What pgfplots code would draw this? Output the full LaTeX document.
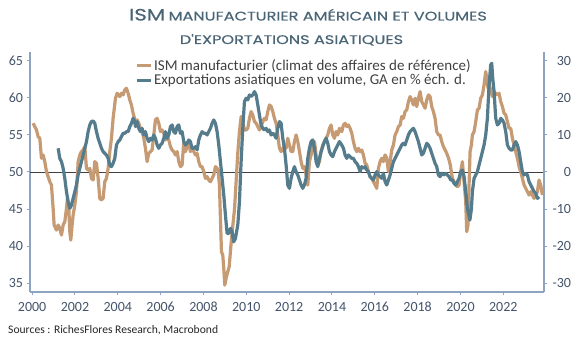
\documentclass[border=0pt]{standalone}
\usepackage{pgfplots}
\usepackage{pgfplotstable}
\pgfplotsset{compat=1.18}
\usepackage{fontspec}
\setmainfont{Carlito}
\newfontfamily\titlefont{Poppins}[FakeBold=0.45]
\definecolor{ismc}{HTML}{C69A72}
\definecolor{expc}{HTML}{547C8C}
\definecolor{axc}{HTML}{8EA3BF}
\definecolor{labc}{HTML}{44546A}
\definecolor{titc}{HTML}{4A6575}
\definecolor{txtc}{HTML}{404040}

\pgfplotstableread{
x y
2000.046 56.58
2000.202 55.68
2000.280 54.77
2000.358 54.55
2000.435 51.85
2000.513 52.30
2000.591 51.40
2000.669 50.05
2000.747 49.37
2000.825 48.69
2000.902 48.24
2000.980 45.09
2001.027 42.84
2001.136 42.16
2001.214 42.84
2001.291 42.39
2001.369 41.49
2001.447 42.84
2001.525 43.29
2001.603 45.09
2001.649 46.44
2001.712 45.09
2001.758 41.94
2001.805 40.81
2001.867 42.84
2001.914 44.19
2001.992 45.54
2002.069 47.34
2002.147 51.40
2002.225 52.30
2002.303 52.75
2002.381 52.97
2002.459 53.42
2002.536 50.50
2002.614 50.27
2002.692 50.50
2002.770 49.14
2002.848 48.92
2002.925 51.40
2003.003 51.17
2003.081 49.14
2003.159 46.44
2003.237 46.22
2003.314 46.44
2003.392 48.69
2003.470 49.14
2003.548 50.50
2003.626 52.75
2003.703 54.55
2003.781 57.25
2003.890 59.95
2003.968 60.63
2004.093 60.18
2004.170 60.63
2004.248 60.41
2004.326 61.08
2004.404 61.31
2004.482 60.63
2004.559 59.73
2004.637 59.05
2004.715 57.93
2004.824 56.80
2004.901 57.03
2004.979 56.58
2005.057 55.90
2005.135 55.45
2005.213 54.55
2005.290 53.20
2005.368 51.40
2005.446 52.52
2005.524 52.75
2005.602 52.97
2005.680 55.00
2005.757 57.03
2005.835 57.25
2005.913 56.58
2005.991 55.45
2006.069 55.68
2006.146 55.23
2006.224 54.32
2006.302 54.77
2006.380 54.32
2006.458 53.42
2006.535 52.97
2006.613 52.75
2006.691 52.30
2006.769 52.75
2006.847 51.40
2006.924 50.72
2007.002 50.95
2007.080 54.10
2007.158 52.75
2007.236 53.42
2007.313 53.87
2007.391 52.75
2007.469 53.20
2007.547 52.75
2007.625 52.30
2007.702 52.52
2007.780 51.40
2007.858 50.72
2007.936 50.72
2008.014 50.05
2008.091 49.14
2008.169 49.37
2008.247 48.92
2008.325 48.69
2008.403 49.14
2008.480 49.59
2008.558 50.72
2008.636 50.50
2008.683 50.27
2008.745 48.24
2008.792 43.74
2008.839 39.23
2008.901 38.78
2008.948 36.98
2008.994 34.73
2009.056 35.63
2009.130 36.50
2009.200 37.20
2009.280 40.00
2009.360 42.50
2009.450 45.00
2009.520 48.50
2009.600 52.50
2009.680 55.50
2009.760 57.50
2009.835 56.80
2009.913 55.68
2009.991 55.68
2010.069 55.90
2010.146 57.25
2010.224 58.15
2010.302 57.70
2010.380 56.80
2010.458 56.58
2010.536 56.13
2010.613 55.68
2010.691 56.13
2010.769 56.80
2010.847 57.25
2010.925 57.03
2011.002 58.15
2011.080 59.05
2011.158 58.83
2011.236 58.15
2011.314 57.25
2011.391 56.58
2011.469 55.00
2011.547 53.20
2011.625 52.75
2011.703 53.20
2011.780 53.65
2011.858 53.20
2011.936 54.55
2012.014 53.65
2012.092 52.75
2012.170 52.75
2012.247 54.10
2012.325 55.00
2012.403 54.10
2012.481 52.75
2012.559 51.40
2012.636 50.50
2012.714 50.72
2012.792 49.59
2012.870 48.24
2012.948 51.40
2013.025 52.30
2013.103 53.65
2013.181 54.10
2013.259 52.30
2013.337 50.95
2013.415 51.40
2013.492 52.75
2013.570 53.65
2013.648 54.10
2013.726 54.55
2013.804 55.00
2013.881 55.90
2013.959 56.35
2014.037 55.00
2014.115 54.55
2014.193 55.45
2014.270 55.00
2014.348 55.90
2014.457 55.45
2014.535 56.35
2014.612 56.58
2014.690 56.13
2014.768 56.35
2014.846 55.90
2014.924 55.23
2015.001 54.10
2015.079 53.20
2015.157 52.75
2015.235 53.20
2015.313 52.75
2015.390 52.97
2015.468 52.30
2015.546 51.17
2015.624 50.95
2015.702 50.05
2015.779 49.37
2015.857 49.14
2015.935 48.69
2016.013 48.24
2016.091 47.79
2016.168 50.50
2016.246 51.40
2016.324 51.85
2016.402 51.40
2016.480 52.30
2016.557 51.85
2016.635 50.05
2016.713 51.40
2016.791 52.97
2016.869 53.65
2016.947 55.00
2017.024 55.45
2017.102 56.13
2017.180 56.35
2017.258 57.48
2017.336 57.25
2017.413 58.15
2017.491 58.38
2017.569 59.50
2017.647 60.18
2017.725 59.73
2017.802 59.05
2017.880 59.95
2017.958 58.83
2018.036 59.95
2018.114 60.86
2018.192 59.50
2018.269 59.05
2018.347 58.60
2018.425 59.73
2018.503 60.41
2018.581 60.18
2018.658 58.83
2018.736 58.15
2018.814 57.25
2018.892 55.45
2018.970 55.00
2019.047 55.00
2019.125 54.10
2019.203 53.42
2019.280 53.00
2019.360 52.50
2019.440 51.90
2019.520 51.00
2019.623 49.14
2019.701 48.69
2019.779 48.24
2019.856 48.02
2019.934 48.24
2020.012 50.05
2020.090 51.40
2020.168 48.69
2020.245 45.99
2020.292 41.94
2020.354 42.84
2020.401 48.24
2020.448 52.75
2020.510 53.65
2020.557 55.00
2020.635 55.45
2020.712 56.80
2020.790 58.38
2020.868 58.60
2020.946 59.95
2021.024 60.41
2021.101 61.76
2021.179 63.56
2021.226 62.66
2021.288 61.31
2021.335 61.98
2021.413 60.86
2021.491 60.18
2021.568 60.86
2021.646 60.63
2021.724 60.41
2021.802 60.63
2021.880 59.50
2021.957 58.83
2022.035 57.93
2022.113 57.70
2022.191 56.80
2022.269 55.90
2022.346 55.90
2022.424 54.55
2022.502 53.65
2022.580 52.75
2022.658 51.85
2022.736 50.72
2022.813 50.05
2022.891 49.14
2022.969 48.24
2023.047 47.79
2023.125 47.34
2023.203 46.89
2023.280 47.34
2023.358 46.89
2023.436 46.44
2023.514 46.89
2023.592 47.34
2023.669 48.92
2023.747 48.24
2023.825 46.89
}\ismtable

\pgfplotstableread{
x y
2001.214 6.40
2001.291 3.69
2001.369 2.79
2001.447 0.99
2001.525 -1.71
2001.603 -5.32
2001.680 -8.02
2001.758 -9.82
2001.836 -8.92
2001.914 -7.12
2001.992 -5.32
2002.069 -3.51
2002.147 -0.81
2002.225 0.99
2002.303 2.79
2002.381 4.59
2002.459 6.40
2002.536 8.20
2002.614 10.90
2002.692 12.70
2002.770 13.60
2002.848 13.78
2002.925 13.15
2003.003 10.90
2003.081 9.10
2003.159 7.75
2003.237 6.40
2003.314 5.50
2003.392 5.05
2003.470 4.59
2003.548 3.69
2003.626 1.89
2003.703 1.44
2003.781 2.34
2003.859 3.69
2003.937 7.30
2004.015 8.20
2004.093 8.65
2004.170 9.55
2004.248 10.45
2004.326 10.45
2004.404 10.90
2004.482 10.90
2004.559 12.25
2004.637 13.15
2004.715 14.50
2004.793 13.60
2004.824 12.25
2004.901 13.60
2004.979 11.80
2005.057 10.90
2005.135 11.80
2005.213 10.00
2005.290 10.90
2005.368 9.10
2005.446 8.20
2005.524 9.10
2005.602 8.65
2005.680 10.00
2005.757 9.10
2005.835 7.30
2005.913 6.40
2005.991 7.30
2006.069 7.75
2006.146 9.10
2006.224 10.90
2006.302 9.10
2006.380 10.00
2006.458 12.25
2006.535 12.70
2006.613 10.90
2006.691 10.45
2006.769 12.25
2006.847 12.70
2006.924 10.45
2007.002 10.90
2007.080 8.20
2007.158 7.30
2007.236 7.75
2007.313 8.65
2007.391 8.20
2007.469 6.40
2007.547 6.40
2007.625 6.85
2007.702 5.95
2007.780 8.65
2007.858 10.00
2007.936 10.90
2008.014 10.45
2008.091 10.45
2008.169 10.00
2008.247 10.90
2008.325 11.80
2008.403 13.15
2008.480 14.05
2008.558 13.15
2008.636 10.90
2008.714 7.30
2008.792 2.79
2008.870 -1.71
2008.948 -6.22
2009.025 -11.62
2009.103 -16.58
2009.181 -16.58
2009.259 -15.23
2009.337 -16.13
2009.414 -18.83
2009.492 -17.93
2009.602 -14.32
2009.680 -8.02
2009.757 2.79
2009.835 11.80
2009.913 19.01
2009.991 19.91
2010.069 19.46
2010.146 20.81
2010.224 20.36
2010.302 20.81
2010.380 21.71
2010.458 20.81
2010.536 18.11
2010.613 15.41
2010.691 12.70
2010.769 11.80
2010.847 11.35
2010.925 11.80
2011.002 10.90
2011.080 11.35
2011.158 10.00
2011.236 10.45
2011.314 10.00
2011.391 9.10
2011.469 11.80
2011.547 13.60
2011.625 13.15
2011.703 9.10
2011.780 6.40
2011.858 1.89
2011.936 -3.51
2012.014 -4.41
2012.092 -1.71
2012.170 0.09
2012.247 1.44
2012.325 0.09
2012.403 -0.81
2012.481 -2.16
2012.559 -3.51
2012.636 -4.41
2012.714 -3.51
2012.792 -1.71
2012.870 3.69
2012.948 6.40
2013.025 8.20
2013.103 8.65
2013.181 6.40
2013.259 2.79
2013.337 1.44
2013.415 3.69
2013.492 5.50
2013.570 6.85
2013.648 8.20
2013.726 9.10
2013.804 7.75
2013.881 5.50
2013.959 4.59
2014.037 4.14
2014.115 5.50
2014.193 6.40
2014.270 7.30
2014.348 8.20
2014.457 7.30
2014.535 6.40
2014.612 4.59
2014.690 3.69
2014.768 4.59
2014.846 4.14
2014.924 3.69
2015.001 3.69
2015.079 2.79
2015.157 2.34
2015.235 1.44
2015.313 0.09
2015.390 1.44
2015.468 0.99
2015.546 1.44
2015.624 0.54
2015.702 0.09
2015.779 -1.26
2015.857 -1.71
2015.935 -2.16
2016.013 -0.81
2016.091 0.09
2016.168 -0.81
2016.246 -1.26
2016.324 -1.71
2016.402 -0.36
2016.480 -2.61
2016.557 -3.51
2016.635 -2.16
2016.713 -0.81
2016.791 0.99
2016.869 2.79
2016.947 3.69
2017.024 4.59
2017.102 5.50
2017.180 6.40
2017.258 7.30
2017.336 7.75
2017.413 7.30
2017.491 8.65
2017.569 10.00
2017.647 10.90
2017.725 11.35
2017.802 11.80
2017.880 10.90
2017.958 9.55
2018.036 8.20
2018.114 6.40
2018.192 4.59
2018.269 5.05
2018.347 6.40
2018.425 7.75
2018.503 7.30
2018.581 6.40
2018.658 5.05
2018.736 3.69
2018.814 2.34
2018.892 1.44
2018.970 -0.81
2019.047 -1.26
2019.125 -0.36
2019.203 -0.81
2019.312 -0.36
2019.390 -0.81
2019.467 -1.26
2019.545 -2.16
2019.623 -2.16
2019.701 -3.06
2019.779 -3.51
2019.856 -2.61
2019.934 -1.71
2020.012 0.09
2020.090 0.54
2020.168 -1.26
2020.245 -5.32
2020.323 -9.82
2020.440 -12.97
2020.510 -10.00
2020.557 -5.32
2020.635 -1.71
2020.712 -0.81
2020.790 0.09
2020.868 1.89
2020.946 3.69
2021.024 5.50
2021.101 7.30
2021.179 10.00
2021.257 14.50
2021.335 23.51
2021.413 28.92
2021.460 29.37
2021.506 25.32
2021.568 21.71
2021.646 14.50
2021.724 12.70
2021.802 13.15
2021.880 14.50
2021.957 14.05
2022.035 13.15
2022.113 10.90
2022.191 7.30
2022.269 6.40
2022.346 5.95
2022.424 5.95
2022.502 7.30
2022.580 8.20
2022.658 7.30
2022.736 5.50
2022.813 2.79
2022.891 0.09
2022.969 -0.81
2023.047 -0.36
2023.125 -0.81
2023.203 -2.61
2023.280 -3.51
2023.358 -4.41
2023.436 -5.32
2023.514 -5.77
2023.592 -7.12
2023.669 -6.67
}\exptable

\pgfplotsset{
  common/.style={
    at={(30pt,48pt)}, anchor=south west,
    scale only axis, width=514pt, height=240pt,
    xmin=1999.9, xmax=2023.9,
    tick align=outside, major tick length=3.5pt,
    every tick/.append style={axc, line width=1pt},
    axis line style={axc, line width=1.6pt},
    ticklabel style={font=\fontsize{14}{14}\selectfont, text=labc},
    /pgf/number format/assume math mode=true,
    /pgf/number format/1000 sep={},
    clip=false,
  }
}

\begin{document}
\begin{tikzpicture}[x=1pt,y=1pt]
\useasboundingbox (0,0) rectangle (579,340);

\begin{axis}[common,
  ymin=33.8, ymax=66.2,
  axis x line*=bottom, axis y line*=left,
  xtick={2000,2002,...,2022},
  ytick={35,40,...,65},
  xticklabel style={yshift=-3pt},
  legend style={at={(0.2043,0.9775)}, anchor=north west, draw=none, fill=none,
    font=\fontsize{15}{15}\selectfont, text=txtc, inner sep=0pt, row sep=0pt,
    /tikz/every even column/.append style={column sep=0pt},
    nodes={inner sep=1.5pt}},
  legend cell align=left,
  legend image code/.code={\draw[#1] (0pt,0pt) -- (14pt,0pt);},
]
\addlegendimage{ismc, line width=3.4pt}
\addlegendentry{ISM manufacturier (climat des affaires de référence)}
\addlegendimage{expc, line width=3.4pt}
\addlegendentry{Exportations asiatiques en volume, GA en \% éch. d.}
\addplot[black!75, line width=0.8pt, forget plot] coordinates {(1999.9,50) (2023.9,50)};
\addplot[ismc, line width=3.2pt, line join=round, forget plot] table[x=x,y=y] {\ismtable};
\end{axis}

\begin{axis}[common,
  ymin=-32.4, ymax=32.4,
  axis x line=none, axis y line*=right,
  ytick={-30,-20,...,30},
  yticklabel style={text width=20pt, align=right, xshift=0pt},
]
\addplot[expc, line width=3.2pt, line join=round] table[x=x,y=y] {\exptable};
\end{axis}

\node[anchor=base, text=titc, inner sep=0pt] at (308,319.5) {\scalebox{1.29}[1]{\titlefont{\fontsize{16.5}{16.5}\selectfont ISM} {\fontsize{12.5}{12.5}\selectfont MANUFACTURIER AMÉRICAIN ET VOLUMES}}};
\node[anchor=base, text=titc, inner sep=0pt] at (291.5,296) {\scalebox{1.29}[1]{\titlefont\fontsize{12.5}{12.5}\selectfont D'EXPORTATIONS ASIATIQUES}};
\node[anchor=base west, text=black!85, inner sep=0pt] at (8,6) {\fontsize{11.6}{11.6}\selectfont Sources : RichesFlores Research, Macrobond};
\end{tikzpicture}
\end{document}
